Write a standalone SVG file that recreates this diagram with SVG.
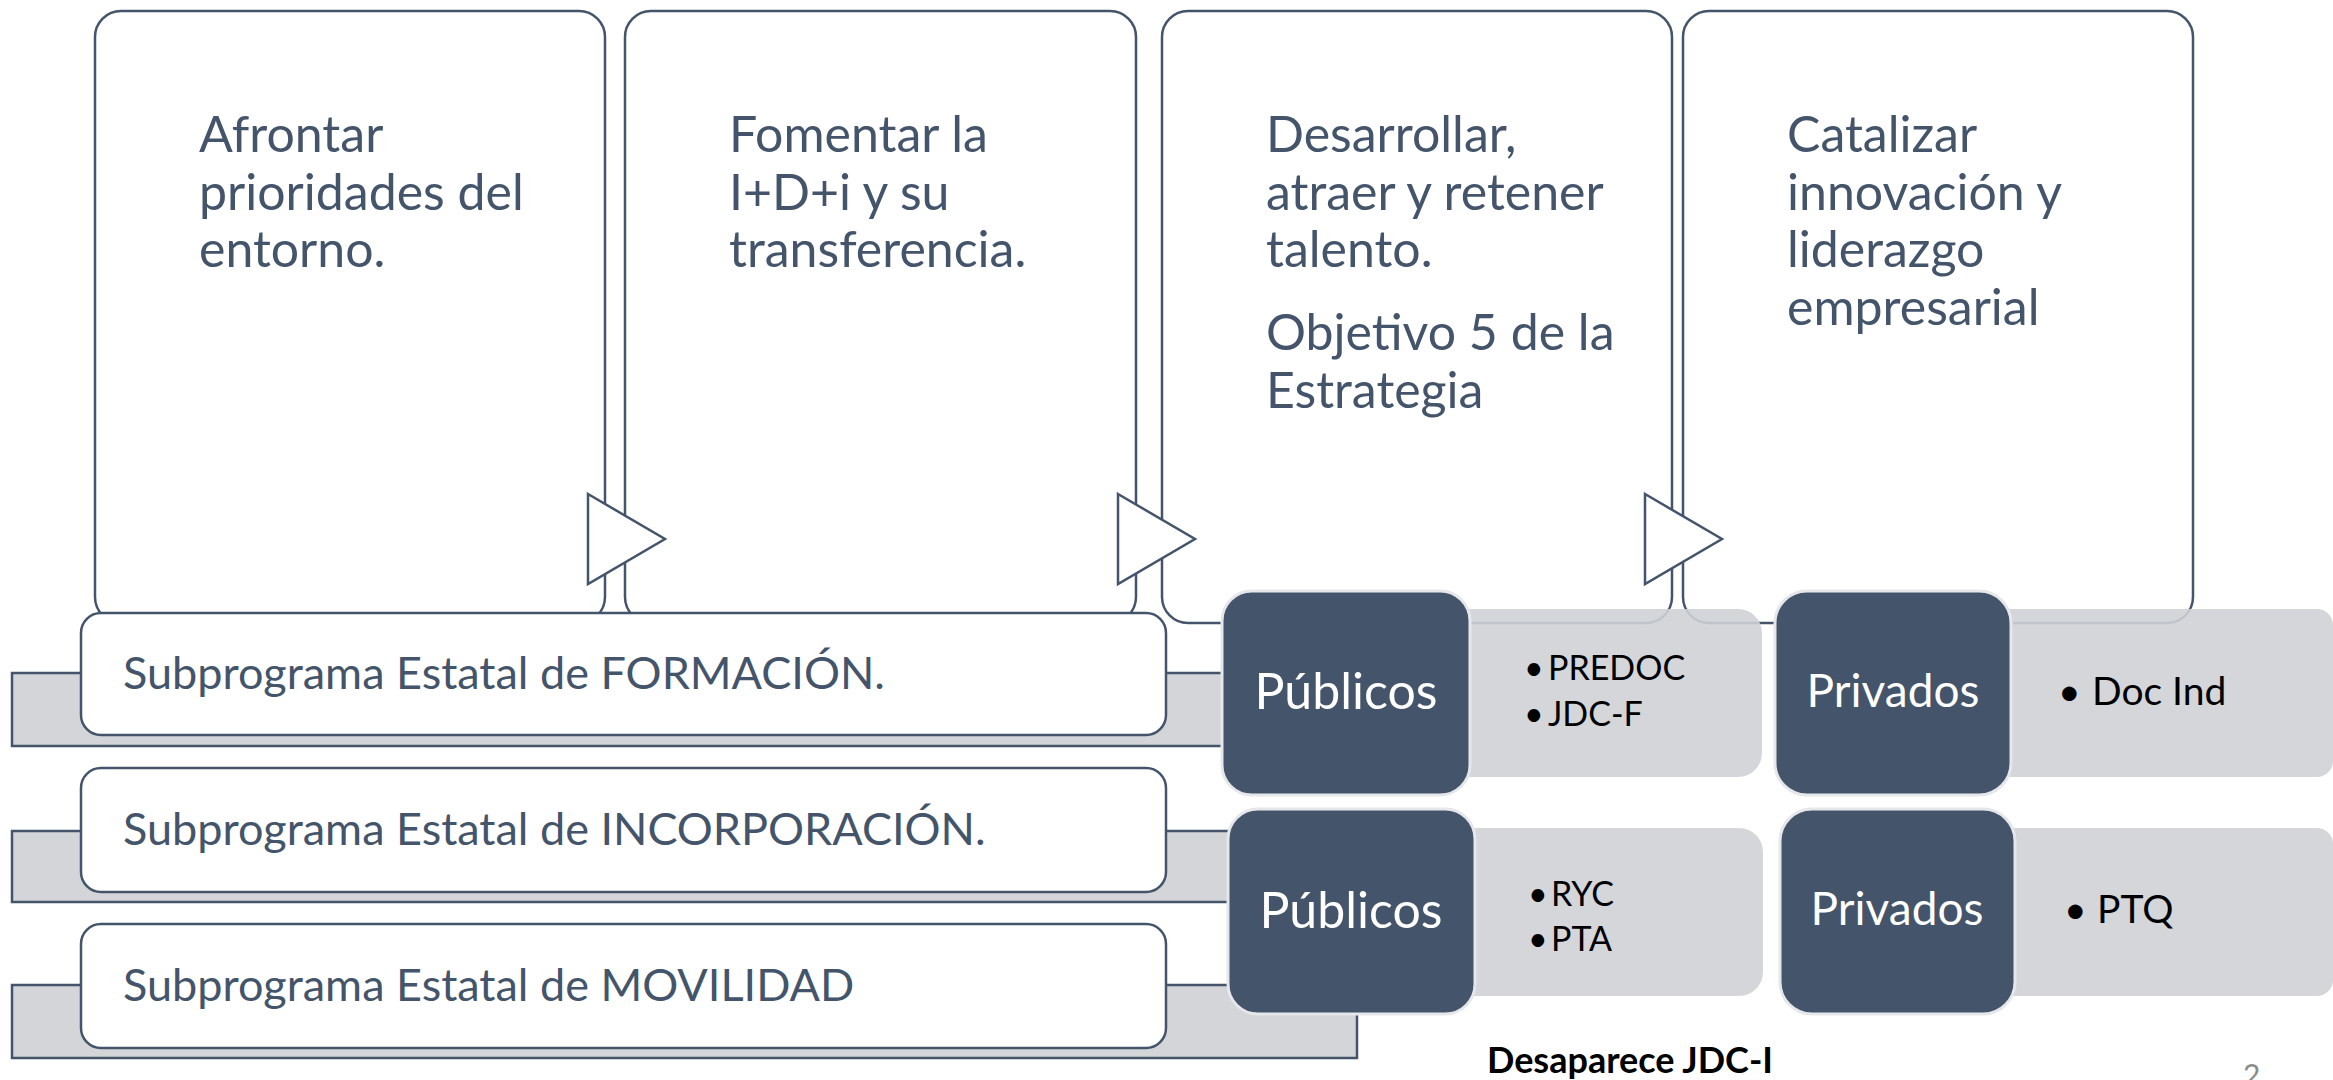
<svg xmlns="http://www.w3.org/2000/svg" width="2333" height="1080" viewBox="0 0 2333 1080">
<style>
.box{fill:#FFFFFF;stroke:#44546A;stroke-width:2.5}
.bar{fill:#D4D5D9;stroke:#44546A;stroke-width:2.5}
.list{fill:#CFD1D6;fill-opacity:0.9}
.dark{fill:#44546A;stroke:#E6E7EA;stroke-width:3}
.tri{fill:#FFFFFF;stroke:#44546A;stroke-width:2.5;stroke-linejoin:miter}
.t1{font-family:Lato,"Open Sans","Liberation Sans",sans-serif;font-size:50px;fill:#44546A}
.t2{font-family:Lato,"Open Sans","Liberation Sans",sans-serif;font-size:45px;fill:#44546A}
.tw{font-family:Lato,"Open Sans","Liberation Sans",sans-serif;font-size:50px;fill:#FFFFFF;text-anchor:middle}
.tv{font-family:Lato,"Open Sans","Liberation Sans",sans-serif;font-size:46px;fill:#FFFFFF;text-anchor:middle}
.tb{font-family:Lato,"Open Sans","Liberation Sans",sans-serif;font-size:34px;fill:#000000}
.tb2{font-family:Lato,"Open Sans","Liberation Sans",sans-serif;font-size:39px;fill:#000000}
</style>

<g id="top-boxes">
  <g id="box-afrontar">
    <rect class="box" x="95" y="11" width="510" height="612" rx="26"/>
    <text class="t1" x="199" y="152">Afrontar</text>
    <text class="t1" x="199" y="210">prioridades del</text>
    <text class="t1" x="199" y="267">entorno.</text>
  </g>
  <g id="box-fomentar">
    <rect class="box" x="625" y="11" width="511" height="612" rx="26"/>
    <text class="t1" x="729" y="152">Fomentar la</text>
    <text class="t1" x="729" y="210">I+D+i y su</text>
    <text class="t1" x="729" y="267">transferencia.</text>
  </g>
  <g id="box-desarrollar">
    <rect class="box" x="1162" y="11" width="510" height="612" rx="26"/>
    <text class="t1" x="1266" y="152">Desarrollar,</text>
    <text class="t1" x="1266" y="210">atraer y retener</text>
    <text class="t1" x="1266" y="267">talento.</text>
    <text class="t1" x="1266" y="350">Objetivo 5 de la</text>
    <text class="t1" x="1266" y="408">Estrategia</text>
  </g>
  <g id="box-catalizar">
    <rect class="box" x="1683" y="11" width="510" height="612" rx="26"/>
    <text class="t1" x="1787" y="152">Catalizar</text>
    <text class="t1" x="1787" y="210">innovación y</text>
    <text class="t1" x="1787" y="267">liderazgo</text>
    <text class="t1" x="1787" y="325">empresarial</text>
  </g>
</g>

<g id="connectors">
  <polygon class="tri" points="588,494 665,539 588,584"/>
  <polygon class="tri" points="1118,494 1195,539 1118,584"/>
  <polygon class="tri" points="1645,494 1722,539 1645,584"/>
</g>

<g id="subprogramas">
  <g id="sub-formacion">
    <rect class="bar" x="12" y="673" width="1345" height="73"/>
    <rect class="box" x="81" y="613" width="1085" height="122" rx="20"/>
    <text class="t2" x="123" y="689">Subprograma Estatal de FORMACIÓN.</text>
  </g>
  <g id="sub-incorporacion">
    <rect class="bar" x="12" y="831" width="1345" height="71"/>
    <rect class="box" x="81" y="768" width="1085" height="124" rx="20"/>
    <text class="t2" x="123" y="845">Subprograma Estatal de INCORPORACIÓN.</text>
  </g>
  <g id="sub-movilidad">
    <rect class="bar" x="12" y="985" width="1345" height="73"/>
    <rect class="box" x="81" y="924" width="1085" height="124" rx="20"/>
    <text class="t2" x="123" y="1001">Subprograma Estatal de MOVILIDAD</text>
  </g>
</g>

<g id="publicos-formacion">
  <rect class="list" x="1350" y="609" width="412" height="168" rx="24"/>
  <rect class="dark" x="1222" y="591" width="248" height="204" rx="30"/>
  <text class="tw" x="1346" y="709">Públicos</text>
  <text class="tb" x="1524" y="680">•<tspan x="1548">PREDOC</tspan></text>
  <text class="tb" x="1524" y="726">•<tspan x="1548">JDC-F</tspan></text>
</g>

<g id="publicos-incorporacion">
  <rect class="list" x="1350" y="828" width="413" height="168" rx="24"/>
  <rect class="dark" x="1228" y="809" width="247" height="205" rx="30"/>
  <text class="tw" x="1351" y="928">Públicos</text>
  <text class="tb" x="1528" y="906">•<tspan x="1551">RYC</tspan></text>
  <text class="tb" x="1528" y="951">•<tspan x="1551">PTA</tspan></text>
</g>

<g id="privados-formacion">
  <rect class="list" x="1900" y="609" width="433" height="168" rx="16"/>
  <rect class="dark" x="1775" y="591" width="236" height="204" rx="32"/>
  <text class="tv" x="1893" y="707">Privados</text>
  <text class="tb2" x="2058" y="705">•<tspan x="2092">Doc Ind</tspan></text>
</g>

<g id="privados-incorporacion">
  <rect class="list" x="1900" y="828" width="433" height="168" rx="16"/>
  <rect class="dark" x="1780" y="809" width="235" height="205" rx="32"/>
  <text class="tv" x="1897" y="925">Privados</text>
  <text class="tb2" x="2064" y="923">•<tspan x="2097">PTQ</tspan></text>
</g>

<g id="notes">
  <text x="1487" y="1073" style="font-family:Lato,'Open Sans','Liberation Sans',sans-serif;font-size:36px;font-weight:bold;fill:#000000">Desaparece JDC-I</text>
  <text x="2243" y="1086" style="font-family:Lato,'Open Sans','Liberation Sans',sans-serif;font-size:30px;fill:#8C8C8C">2</text>
</g>
</svg>
